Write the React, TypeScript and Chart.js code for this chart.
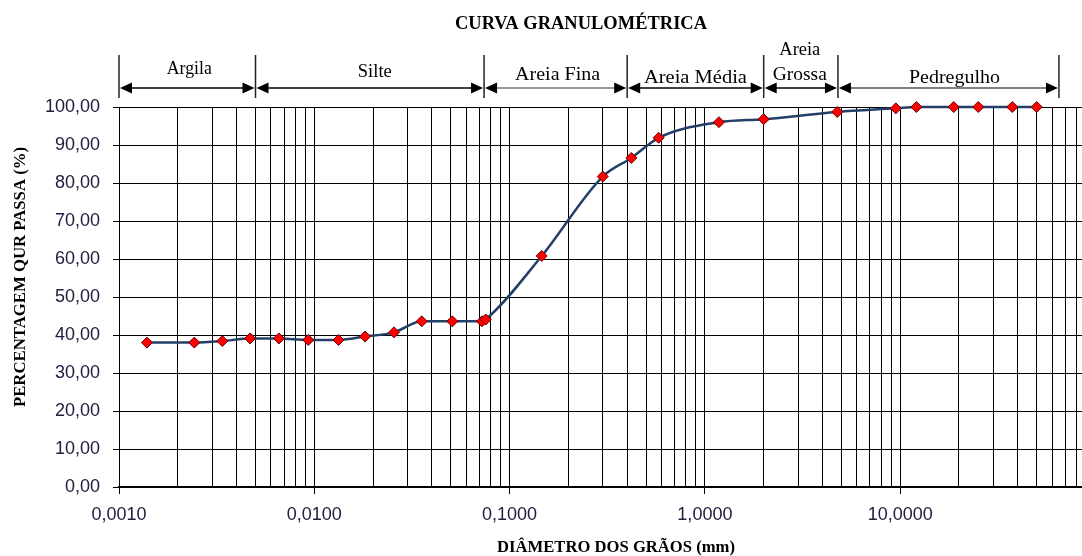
import React, { useEffect, useRef } from 'react';
import { Chart, registerables } from 'chart.js';

Chart.register(...registerables);

// ---- data ----
const diameters = [
  0.00139, 0.00243, 0.00338, 0.00469, 0.00659, 0.00931, 0.0133, 0.0182, 0.0256, 0.0355,
  0.0509, 0.0722, 0.0755, 0.146, 0.30, 0.42, 0.58, 1.18, 2.0, 4.76,
  9.5, 12.1, 18.8, 25.1, 37.5, 50.0,
];
const passing = [
  38.0, 38.0, 38.4, 39.1, 39.1, 38.7, 38.7, 39.6, 40.7, 43.6,
  43.6, 43.6, 44.1, 60.8, 81.7, 86.6, 91.9, 96.0, 96.8, 98.7,
  99.65, 100.0, 100.0, 100.0, 100.0, 100.0,
];

const xDecadeValues = [0.001, 0.01, 0.1, 1, 10];
const xDecadeLabels = ['0,0010', '0,0100', '0,1000', '1,0000', '10,0000'];
const xMin = 0.001;
const xMax = 85.3;

const bandNames = ['Argila', 'Silte', 'Areia Fina', 'Areia Média', 'Areia|Grossa', 'Pedregulho'];
const bandLimits = [0.001, 0.005, 0.074, 0.4, 2.0, 4.8, 65];

const titleText = 'CURVA GRANULOMÉTRICA';
const yTitleText = 'PERCENTAGEM QUR PASSA (%)';
const xTitleText = 'DIÂMETRO DOS GRÃOS (mm)';

// gridline values 1..9 x 10^n within the axis range
const xGridValues: number[] = [];
for (let e = -3; e <= 1; e++) {
  for (let m = 1; m <= 9; m++) {
    const v = Number((m * Math.pow(10, e)).toPrecision(6));
    if (v >= xMin && v <= xMax) xGridValues.push(v);
  }
}

const isDecade = (v: number | undefined) =>
  v !== undefined && xDecadeValues.some((d) => Math.abs(d - v) / d < 1e-6);

// ---- styles for annotation texts ----
const bandLabelStyle = [
  { dx: 2, lines: [{ base: 74, w: 45 }] },
  { dx: 5, lines: [{ base: 76.5, w: 34 }] },
  { dx: 2, lines: [{ base: 80, w: 85 }] },
  { dx: 0, lines: [{ base: 82.5, w: 103 }] },
  { dx: -1, lines: [{ base: 55, w: 41 }, { base: 80, w: 54 }] },
  { dx: 6, lines: [{ base: 82.5, w: 91 }] },
];
const arrowColors = ['#000', '#000', '#777', '#000', '#000', '#555'];

function fitText(
  ctx: CanvasRenderingContext2D,
  text: string,
  x: number,
  y: number,
  width: number,
  font: string,
  rot = 0
) {
  ctx.save();
  ctx.font = font;
  const w = ctx.measureText(text).width;
  const s = width / w;
  ctx.translate(x, y);
  if (rot) ctx.rotate(rot);
  ctx.scale(s, 1);
  ctx.textAlign = 'center';
  ctx.textBaseline = 'alphabetic';
  ctx.fillStyle = '#000';
  ctx.fillText(text, 0, 0);
  ctx.restore();
}

const annotationPlugin = {
  id: 'annotations',
  afterDraw(chart: any) {
    const ctx: CanvasRenderingContext2D = chart.ctx;
    const xs = chart.scales.x;
    ctx.save();
    // title
    fitText(ctx, titleText, 581, 29, 252, 'bold 18px "Liberation Serif"');
    // y title
    fitText(ctx, yTitleText, 25, 277, 260, 'bold 17px "Liberation Serif"', -Math.PI / 2);
    // x title
    fitText(ctx, xTitleText, 616, 552, 238, 'bold 16.5px "Liberation Serif"');

    const px = bandLimits.map((v) => xs.getPixelForValue(v));
    // separators
    ctx.strokeStyle = '#222';
    ctx.lineWidth = 1.5;
    px.forEach((x) => {
      ctx.beginPath();
      ctx.moveTo(x, 55);
      ctx.lineTo(x, 98);
      ctx.stroke();
    });
    // arrows + labels
    const ay = 88;
    const al = 12;
    const ah = 5.5;
    for (let i = 0; i < bandNames.length; i++) {
      const x0 = px[i] + 1;
      const x1 = px[i + 1] - 1;
      ctx.strokeStyle = arrowColors[i];
      ctx.lineWidth = 1.5;
      ctx.beginPath();
      ctx.moveTo(x0 + al - 1, ay);
      ctx.lineTo(x1 - al + 1, ay);
      ctx.stroke();
      ctx.fillStyle = '#000';
      ctx.beginPath();
      ctx.moveTo(x0, ay);
      ctx.lineTo(x0 + al, ay - ah);
      ctx.lineTo(x0 + al, ay + ah);
      ctx.closePath();
      ctx.fill();
      ctx.beginPath();
      ctx.moveTo(x1, ay);
      ctx.lineTo(x1 - al, ay - ah);
      ctx.lineTo(x1 - al, ay + ah);
      ctx.closePath();
      ctx.fill();

      const parts = bandNames[i].split('|');
      const st = bandLabelStyle[i];
      const cx = (px[i] + px[i + 1]) / 2 + st.dx;
      parts.forEach((p, k) => {
        fitText(ctx, p, cx, st.lines[k].base, st.lines[k].w, '18px "Liberation Serif"');
      });
    }
    ctx.restore();
  },
};

export default function App() {
  const canvasRef = useRef<HTMLCanvasElement | null>(null);

  useEffect(() => {
    if (!canvasRef.current) return;
    const chart = new Chart(canvasRef.current, {
      type: 'line',
      data: {
        datasets: [
          {
            data: diameters.map((d, i) => ({ x: d, y: passing[i] })),
            borderColor: '#23406a',
            borderWidth: 2.5,
            cubicInterpolationMode: 'monotone',
            pointStyle: 'rectRot',
            pointRadius: 5.5,
            pointBackgroundColor: '#ff0000',
            pointBorderColor: '#6a0000',
            pointBorderWidth: 1,
            clip: false,
          } as any,
        ],
      },
      options: {
        animation: false,
        responsive: false,
        devicePixelRatio: 1,
        layout: { autoPadding: false, padding: { top: 107, left: 0, right: 0, bottom: 0 } },
        plugins: {
          legend: { display: false },
          tooltip: { enabled: false },
        },
        scales: {
          x: {
            type: 'logarithmic',
            min: xMin,
            max: xMax,
            bounds: 'data',
            afterBuildTicks: (s: any) => {
              s.ticks = xGridValues.map((v) => ({ value: v }));
            },
            afterFit: (s: any) => {
              s.height = 69;
              s.paddingLeft = 0;
              s.paddingRight = 0;
            },
            ticks: {
              autoSkip: false,
              maxRotation: 0,
              minRotation: 0,
              padding: 10,
              color: '#202040',
              font: { family: 'Liberation Sans', size: 18 },
              callback: (v: any) => {
                const val = Number(v);
                const i = xDecadeValues.findIndex((d) => Math.abs(d - val) / d < 1e-6);
                return i >= 0 ? xDecadeLabels[i] : '';
              },
            },
            grid: {
              color: '#000',
              lineWidth: 1,
              drawTicks: true,
              tickLength: 7,
              tickWidth: 1,
              tickColor: (c: any) => (isDecade(c.tick?.value) ? '#000' : 'rgba(0,0,0,0)'),
            },
            border: { display: true, color: '#000', width: 2 },
          } as any,
          y: {
            min: 0,
            max: 100,
            afterFit: (s: any) => {
              s.width = 119;
              s.paddingTop = 0;
              s.paddingBottom = 0;
            },
            ticks: {
              stepSize: 10,
              padding: 13,
              color: '#202040',
              font: { family: 'Liberation Sans', size: 18 },
              callback: (v: any) => Number(v).toFixed(2).replace('.', ','),
            },
            grid: { color: '#000', lineWidth: 1, drawTicks: true, tickLength: 6, tickColor: '#000' },
            border: { display: true, color: '#000', width: 1 },
          } as any,
        },
      },
      plugins: [annotationPlugin],
    });
    return () => chart.destroy();
  }, []);

  return (
    <div
      style={{
        position: 'fixed',
        left: 0,
        top: 0,
        width: 1082,
        height: 556,
        background: '#fff',
        overflow: 'hidden',
      }}
    >
      <canvas ref={canvasRef} width={1082} height={556} style={{ width: 1082, height: 556, display: 'block' }} />
    </div>
  );
}
